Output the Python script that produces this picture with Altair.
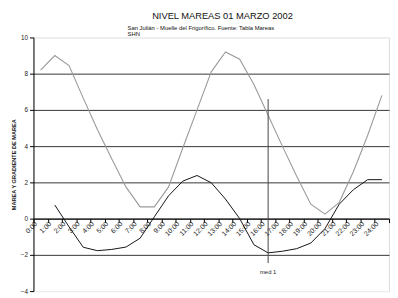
import altair as alt
import pandas as pd

hours = ["0:00", "1:00", "2:00", "3:00", "4:00", "5:00", "6:00", "7:00", "8:00",
         "9:00", "10:00", "11:00", "12:00", "13:00", "14:00", "15:00", "16:00",
         "17:00", "18:00", "19:00", "20:00", "21:00", "22:00", "23:00", "24:00"]
marea = [8.2, 9.0, 8.45, 6.65, 4.9, 3.3, 1.75, 0.65, 0.65, 1.75, 3.9, 6.0, 8.1,
         9.2, 8.8, 7.4, 5.7, 4.0, 2.35, 0.8, 0.25, 0.9, 2.6, 4.6, 6.8]
gradiente = [None, 0.75, -0.45, -1.58, -1.77, -1.7, -1.57, -1.08, 0.1, 1.26, 2.07,
             2.38, 1.98, 1.08, 0.0, -1.44, -1.89, -1.8, -1.66, -1.35, -0.55, 0.8,
             1.6, 2.15, 2.15]
y_ticks = [-4, -2, 0, 2, 4, 6, 8, 10]

med_hora = ["16:00"]
med_top = [6.6]
med_bottom = [-2.45]
med_label = ["med 1"]
med_label_y = [-2.95]

title_text = "NIVEL MAREAS 01 MARZO 2002"
sub1 = "San Julián - Muelle del Frigorífico. Fuente: Tabla Mareas"
sub2 = "SHN"

FONT = "Liberation Sans"

df = pd.DataFrame({"hora": hours, "marea": marea, "gradiente": gradiente})
df_med = pd.DataFrame({"hora": med_hora, "top": med_top, "bottom": med_bottom,
                       "label": med_label, "ly": med_label_y})

xscale = alt.Scale(type="band", domain=hours, paddingInner=0, paddingOuter=0)
yscale = alt.Scale(domain=[-4, 10], nice=False, zero=False)

x_axis = alt.Axis(
    orient="bottom", offset=-74, title=None, grid=False,
    domainColor="#000", tickColor="#000", tickSize=4, tickBand="extent",
    labelAngle=315, labelAlign="right", labelBaseline="middle",
    labelOffset=-5, labelPadding=0, labelFont=FONT, labelFontSize=7,
    labelColor="#222", labelOverlap=False,
)
y_axis = alt.Axis(
    values=y_ticks, grid=True, labelOverlap=False, labelFlush=False,
    gridColor={"condition": {"test": "datum.value == 10 || datum.value == -4",
                             "value": "#eeeeee"}, "value": "#333333"},
    domainColor="#000", tickColor="#000", tickSize=4,
    labelFont=FONT, labelFontSize=6.5, labelColor="#222", labelPadding=2,
    title="MAREA Y GRADIENTE DE MAREA", titleFont=FONT, titleFontSize=5.7,
    titleFontWeight="bold", titleColor="#222", titlePadding=4,
)

x_enc = alt.X("hora:O", sort=hours, scale=xscale, axis=x_axis, bandPosition=0.5)

line_marea = alt.Chart(df).mark_line(color="#9a9a9a", strokeWidth=1.1).encode(
    x=x_enc,
    y=alt.Y("marea:Q", scale=yscale, axis=y_axis),
)
line_grad = alt.Chart(df).mark_line(color="#111", strokeWidth=1).encode(
    x=x_enc,
    y=alt.Y("gradiente:Q", scale=yscale, axis=y_axis),
)
rule_med = alt.Chart(df_med).mark_rule(color="#444", strokeWidth=1).encode(
    x=x_enc,
    y=alt.Y("top:Q", scale=yscale, axis=y_axis),
    y2="bottom:Q",
)
text_med = alt.Chart(df_med).mark_text(font=FONT, fontSize=6, color="#222",
                                       baseline="middle", align="center").encode(
    x=x_enc,
    y=alt.Y("ly:Q", scale=yscale, axis=y_axis),
    text="label:N",
)

df_title = pd.DataFrame({"t": [title_text]})
df_sub1 = pd.DataFrame({"t": [sub1]})
df_sub2 = pd.DataFrame({"t": [sub2]})

t_main = alt.Chart(df_title).mark_text(font=FONT, fontSize=9.5, color="#111",
                                       align="center", baseline="alphabetic").encode(
    x=alt.value(193), y=alt.value(-19), text="t:N")
t_sub1 = alt.Chart(df_sub1).mark_text(font=FONT, fontSize=6, color="#111",
                                      align="left", baseline="alphabetic").encode(
    x=alt.value(96), y=alt.value(-8), text="t:N")
t_sub2 = alt.Chart(df_sub2).mark_text(font=FONT, fontSize=6, color="#111",
                                      align="left", baseline="alphabetic").encode(
    x=alt.value(96), y=alt.value(-1.8), text="t:N")

chart = alt.layer(line_marea, line_grad, rule_med, text_med, t_main, t_sub1, t_sub2).properties(
    width=363, height=259,
    autosize=alt.AutoSizeParams(type="none"),
    padding={"left": 26, "top": 27, "right": 1, "bottom": 4},
).configure_view(stroke="#eeeeee").configure(background="white")

chart.save("out.html", embed_options={"renderer": "svg", "actions": False})
